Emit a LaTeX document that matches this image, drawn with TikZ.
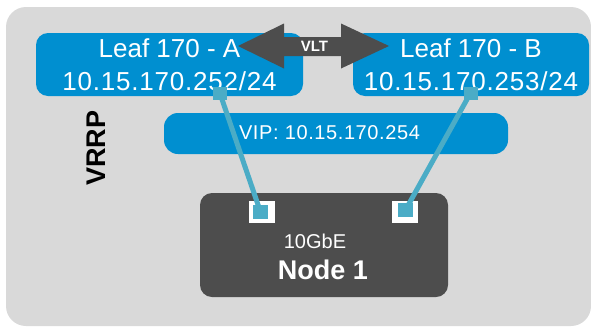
\documentclass[tikz,border=0pt]{standalone}
\usepackage{fontspec}
\setmainfont{Liberation Sans}
\newfontfamily\tracked[LetterSpace=3]{Liberation Sans}
\definecolor{panelgray}{RGB}{217,217,217}
\definecolor{leafblue}{RGB}{0,143,208}
\definecolor{darkbox}{RGB}{77,77,77}
\definecolor{linkteal}{RGB}{75,172,198}
\tikzset{
  leafbox/.style={fill=leafblue, rounded corners=12pt, inner sep=0pt, text=white,
    align=center, font=\fontsize{26}{33}\selectfont},
  vipbox/.style={fill=leafblue, rounded corners=14pt, inner sep=0pt},
  serverbox/.style={fill=darkbox, rounded corners=12pt, inner sep=0pt},
  tap/.style={fill=linkteal, inner sep=0pt, minimum width=14pt, minimum height=13pt},
  portouter/.style={fill=white, inner sep=0pt, minimum width=26pt, minimum height=22pt},
  portinner/.style={fill=linkteal, inner sep=0pt, minimum width=15pt, minimum height=14pt},
  link/.style={draw=linkteal, line width=5pt},
  whitetext/.style={text=white, inner sep=0pt, anchor=base}
}
\begin{document}
\begin{tikzpicture}[x=1pt,y=-1pt]
\useasboundingbox (0,0) rectangle (591,327);
% grey panel
\fill[panelgray, rounded corners=20pt] (6,7) rectangle (591,326);

% the two leaf switches
\node[leafbox, minimum width=267pt, minimum height=63pt] (leafA) at (169.5,64.5)
  {Leaf 170 - A\\{\tracked 10.15.170.252/24}};
\node[leafbox, minimum width=236pt, minimum height=63pt] (leafB) at (471,64.5)
  {Leaf 170 - B\\{\tracked 10.15.170.253/24}};
\node[tap] (tapA) at (220,93.5) {};
\node[tap] (tapB) at (470.5,93) {};

% virtual IP bar
\node[vipbox, minimum width=344pt, minimum height=41pt] (vip) at (336,133.5) {};
\node[whitetext, font=\fontsize{20}{24}\selectfont\tracked] (viptext) at (329.5,139) {VIP: 10.15.170.254};

% VRRP label
\node[rotate=90, font=\fontsize{27}{30}\selectfont\bfseries, inner sep=0pt] (vrrp) at (96,148) {VRRP};

% server node with its two ports
\node[serverbox, minimum width=248pt, minimum height=104pt] (server) at (324,245) {};
\node[whitetext, font=\fontsize{20}{24}\selectfont] (nic) at (315,248) {10GbE};
\node[whitetext, font=\fontsize{27}{30}\selectfont\bfseries] (srvname) at (323,279) {Node 1};
\node[portouter] (portL) at (262,212) {};
\node[portinner] (portLi) at (260.5,212) {};
\node[portouter] (portR) at (405,212) {};
\node[portinner] (portRi) at (405.5,210) {};

% uplinks
\draw[link] (tapA.center) -- (portLi.center);
\draw[link] (tapB.center) -- (portRi.center);

% VLT interconnect
\fill[darkbox] (238,46) -- (284,23.5) -- (284,37) -- (341,37) -- (341,23.5) -- (389,46)
  -- (341,68.5) -- (341,56) -- (284,56) -- (284,68.5) -- cycle;
\node[whitetext, font=\fontsize{15}{18}\selectfont\bfseries] (vlt) at (314.5,51) {VLT};
\end{tikzpicture}
\end{document}
